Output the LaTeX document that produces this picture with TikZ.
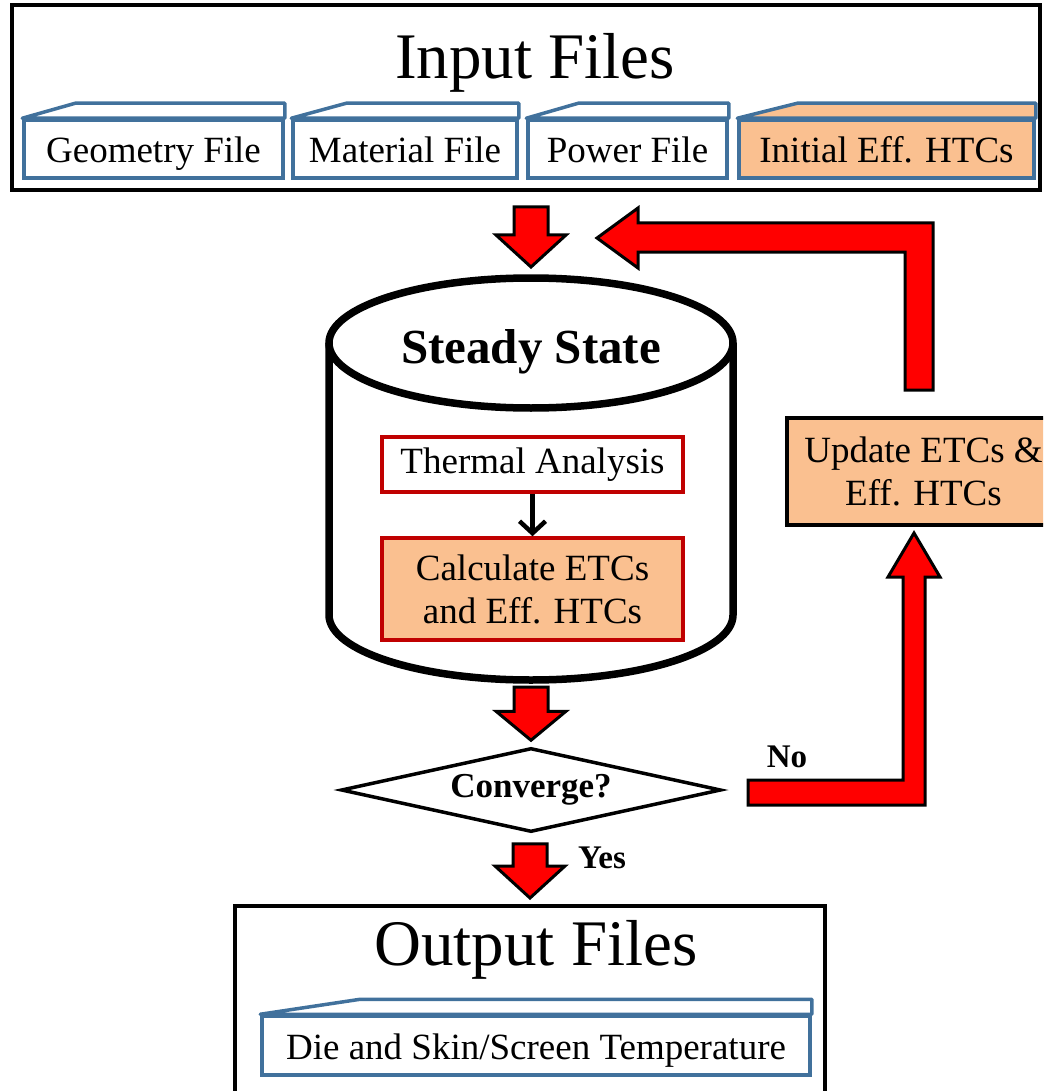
\documentclass[tikz,border=0pt]{standalone}
\usepackage{fontspec}
\setmainfont{Liberation Serif}
\usetikzlibrary{shapes.geometric,arrows.meta,calc}
\definecolor{naranja}{HTML}{FAC090}
\definecolor{azul}{HTML}{41719C}
\definecolor{rojo}{HTML}{C00000}
\newcommand\fs[1]{\fontsize{#1}{43}\selectfont}
\newcommand\tabfile[3][white]{\draw[draw=azul, line width=3.5pt, fill=#1, line join=round]
  (#2.north west) -- ++(#3,-15) -- ($(#2.north east)+(0,-15)$) -- (#2.north east) -- cycle;}
\newcommand\bajar[3]{\draw[blk] let \p1=(#1), \p2=(#2) in
  (\x2-17pt,\y1) -- (\x2+17pt,\y1) -- (\x2+17pt,\y2+#3) -- (\x2+35pt,\y2+#3) -- (\x2,\y2)
  -- (\x2-35pt,\y2+#3) -- (\x2-17pt,\y2+#3) -- cycle;}
\tikzset{
  frame/.style={draw, line width=4pt},
  filebx/.style={draw=azul, line width=3.5pt, fill=white, minimum height=58, inner sep=0pt,
    text height=28pt, text depth=0pt, font=\fs{37}},
  procbx/.style={draw=rojo, line width=3.5pt, font=\fs{37}, align=center, inner sep=0pt, minimum width=301},
  blk/.style={draw=black, line width=3pt, fill=red, line join=miter},
  lbl/.style={font=\bfseries\fs{33}}
}

\begin{document}
\begin{tikzpicture}[x=1pt, y=-1pt]
  \clip (0,0) rectangle (1043,1091);
  % input files
  \node[frame, minimum width=1028, minimum height=185] (in) at (526,97.5) {};
  \node[font=\fs{65}] (tin) at (535,63) {Input Files};
  \node[filebx, minimum width=259] (geo) at (153.5,149) {Geometry File};   \tabfile{geo}{53}
  \node[filebx, minimum width=224] (mat) at (405,149) {Material File};     \tabfile{mat}{55}
  \node[filebx, minimum width=199] (pow) at (627.5,149) {Power File};      \tabfile{pow}{52}
  \node[filebx, minimum width=295, fill=naranja] (htc) at (886.5,149) {Initial Eff. HTCs}; \tabfile[naranja]{htc}{60}
  % steady state
  \coordinate (cyl) at (531,278);
  \coordinate (cylb) at (531,680);
  \draw[line width=7.5pt] ($(cyl)+(0,65)$) ellipse [x radius=202pt, y radius=65pt];
  \draw[line width=7.5pt] ($(cyl)+(-202,65)$) -- ++(0,272) arc[start angle=180, end angle=360, x radius=202pt, y radius=65pt] -- ++(0,-272);
  \node[font=\bfseries\fs{49}] (ss) at (531,352) {Steady State};
  \node[procbx, minimum height=55] (ta) at (532.5,464.5) {Thermal Analysis};
  \node[procbx, fill=naranja, minimum height=102] (ca) at (532.5,589) {Calculate ETCs\\and Eff. HTCs};
  \draw[line width=4.5pt, -{Straight Barb[length=12pt,width=26pt]}] (ta) -- (ca);
  % convergence check
  \node[diamond, draw, line width=3.5pt, minimum width=380, minimum height=84, inner sep=0pt, aspect=4.5, font=\bfseries\fs{35}] (conv) at (531,790) {Converge?};
  \node[draw, line width=4.5pt, fill=naranja, font=\fs{37}, align=center, minimum width=273, minimum height=107] (upd) at (923.5,471.5) {Update ETCs \&\\Eff. HTCs};
  \node[lbl] (no) at (787,757) {No};
  \node[lbl] (yes) at (602,858) {Yes};
  % output files
  \node[frame, minimum width=590, minimum height=240] (out) at (530,1026) {};
  \node[font=\fs{65}] (tout) at (536,950) {Output Files};
  \node[filebx, minimum width=548, minimum height=59] (die) at (536,1045.5) {Die and Skin/Screen Temperature}; \tabfile{die}{100}
  % block arrows
  \bajar{$(in.south)+(0,15)$}{$(cyl)+(0,-11)$}{32pt}
  \bajar{$(cylb)+(0,7)$}{$(conv.north)+(0,-6)$}{29pt}
  \bajar{$(conv.south)+(0,10)$}{$(out.north)+(0,-6)$}{32pt}
  \draw[blk] (597,238) -- (638,208) -- (638,223) -| (933,390) -- (905,390) |- (638,252) -- (638,268) -- cycle;
  \draw[blk] (748,780) -| (903,577) -- (888,577) -- (914,533) -- (940,577) -- (925,577) |- (748,805) -- cycle;
\end{tikzpicture}
\end{document}
